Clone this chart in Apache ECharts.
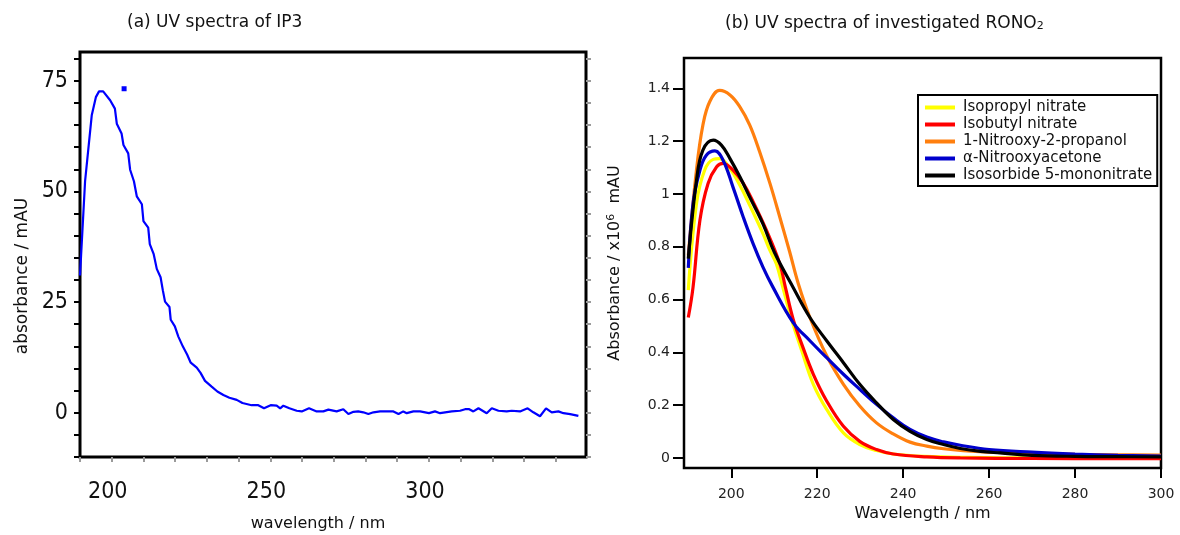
<!DOCTYPE html>
<html><head><meta charset="utf-8">
<script src="https://cdn.jsdelivr.net/npm/echarts@6/dist/echarts.min.js"></script>
<style>html,body{margin:0;padding:0;background:#fff}#c{width:1180px;height:535px}</style>
</head><body><div id="c"></div>
<script>
// ---------- Panel (a): UV spectrum of IP3 (wavelength nm, absorbance mAU) ----------
const ip3 = [
 [190,31],[191.6,52.3],[193.7,67.2],[195,71.3],[196,72.6],[197.3,72.6],[199.5,70.6],[201,68.7],
 [201.6,65.3],[203.1,63.1],[203.7,60.5],[205.2,58.6],[205.8,54.9],[207,52.3],[207.9,48.9],
 [209.5,47.1],[210,43.3],[211.5,41.8],[212,38.1],[213.2,35.9],[214.2,32.5],[215.4,30.6],
 [216.1,27.7],[216.8,25.1],[218.2,23.9],[218.6,21.0],[219.9,19.5],[221,17.2],[222.4,15.0],
 [223.8,13.1],[224.9,11.3],[226.8,10.2],[228,9.0],[229.4,7.2],[231.5,5.9],[233.3,4.8],
 [235.2,4.0],[237.1,3.4],[239.4,2.9],[241.2,2.2],[244.1,1.7],[246.2,1.7],[248,1.0],[250.1,1.7],
 [252,1.6],[253.1,1.0],[254.1,1.6],[256,1.0],[258.3,0.45],[259.9,0.3],[262.2,1.0],[264.6,0.3],
 [266.7,0.3],[268.3,0.7],[270.9,0.3],[273,0.8],[274.6,-0.3],[276.2,0.2],[277.7,0.3],[279.3,0.1],
 [280.9,-0.3],[282.5,0.1],[284.6,0.3],[286.9,0.3],[288.8,0.3],[290.4,-0.3],[291.9,0.3],[293,-0.1],
 [295.1,0.3],[297.2,0.3],[300,-0.1],[301.9,0.3],[303.5,-0.1],[305.1,0.1],[307.2,0.3],[309.8,0.45],
 [311.4,0.8],[312.7,0.8],[314,0.3],[315.6,1.0],[318.2,-0.1],[319.8,1.0],[321.9,0.45],[324.5,0.3],
 [326.1,0.45],[328.7,0.3],[331.1,1.0],[332.9,0.1],[335,-0.8],[336.9,1.0],[338.7,0.1],[340.8,0.3],
 [342.4,-0.1],[344.5,-0.3],[347.1,-0.7]
];
const ip3Outlier = [[203.9,73.2]];
const leftXTicks = [190,200,210,220,230,240,250,260,270,280,290,300,310,320,330,340];
const leftXLabels = [200,250,300];
const leftYTicks = [-10,-5,0,5,10,15,20,25,30,35,40,45,50,55,60,65,70,75,80];
const leftYLabels = [0,25,50,75];

// ---------- Panel (b): UV spectra of RONO2 (wavelength nm, absorbance x10^6 mAU) ----------
const isopropylNitrate = [
 [190,0.636],[191.9,0.963],[193.8,1.09],[195.8,1.131],[197.3,1.134],[199.7,1.096],[202,1.033],
 [204.3,0.957],[207.4,0.849],[209,0.786],[210.5,0.735],[212,0.646],[214,0.526],[216.4,0.406],
 [219.1,0.279],[222.2,0.184],[226.1,0.095],[229.9,0.051],[233.8,0.028],[237.7,0.015],[245,0.006],
 [255,0.002],[270,0.0],[300,0.0]
];
const isobutylNitrate = [
 [190,0.532],[191.1,0.646],[192.7,0.9],[194.6,1.04],[196.6,1.103],[198.1,1.116],[200.4,1.09],
 [202.8,1.04],[205.1,0.97],[208.2,0.862],[211.3,0.735],[212.6,0.646],[214.4,0.526],[216.7,0.418],
 [219.1,0.317],[222.2,0.216],[226.1,0.12],[229.9,0.063],[233.8,0.032],[237.7,0.015],[245.5,0.004],
 [253.3,0.0],[270,-0.002],[300,-0.003]
];
const nitrooxyPropanol = [
 [190,0.767],[191.9,1.09],[193.4,1.261],[195,1.35],[197.3,1.392],[199.7,1.375],[202,1.33],
 [204.3,1.261],[206.6,1.16],[209,1.04],[211.3,0.912],[213.6,0.78],[215.6,0.66],[218.3,0.532],
 [222.2,0.387],[226.1,0.279],[229.9,0.197],[233.8,0.133],[237.7,0.091],[241.6,0.06],[245.5,0.045],
 [249.4,0.035],[254,0.028],[262,0.021],[270,0.017],[280,0.014],[290,0.012],[300,0.011]
];
const nitrooxyacetone = [
 [190,0.72],[191.1,0.963],[192.7,1.09],[194.2,1.147],[196.2,1.163],[198.1,1.128],[200.4,1.026],
 [202.8,0.912],[205.1,0.811],[207.4,0.722],[209.6,0.65],[214.4,0.513],[218.3,0.444],[222.2,0.38],
 [226.1,0.317],[229.9,0.26],[233.8,0.203],[237.7,0.152],[241.6,0.108],[245.5,0.079],[249.4,0.061],
 [253.3,0.048],[260,0.032],[270,0.022],[280,0.015],[290,0.01],[300,0.007]
];
const isosorbideMononitrate = [
 [190,0.755],[191.9,1.05],[193.4,1.166],[195.8,1.204],[197.7,1.185],[199.7,1.134],[202,1.065],
 [204.3,0.988],[207.4,0.886],[210,0.78],[214.4,0.646],[218.3,0.532],[222.2,0.444],[226.1,0.361],
 [229.9,0.279],[233.8,0.209],[237.7,0.146],[241.6,0.101],[245.5,0.07],[249.4,0.051],[253.3,0.036],
 [258,0.025],[262.6,0.019],[270,0.01],[280,0.006],[290,0.005],[300,0.004]
];
const seriesNames = ['Isopropyl nitrate','Isobutyl nitrate','1-Nitrooxy-2-propanol','\u03b1-Nitrooxyacetone','Isosorbide 5-mononitrate'];
const seriesColors = ['#ffff00','#ff0000','#ff7f0e','#0000cc','#000000'];
const rightXTicks = [200,220,240,260,280,300];
const rightYTicks = [0,0.2,0.4,0.6,0.8,1,1.2,1.4];

const SANS = "'DejaVu Sans', sans-serif";
const NARROW = "'Liberation Sans Narrow','DejaVu Sans Condensed',sans-serif";

const chart = echarts.init(document.getElementById('c'), null, {renderer:'canvas'});
const rightData = [isopropylNitrate, isobutylNitrate, nitrooxyPropanol, nitrooxyacetone, isosorbideMononitrate];

chart.setOption({
  animation:false,
  backgroundColor:'#fff',
  title:[
    {text:'(a) UV spectra of IP3', left:122, top:9,
     textStyle:{fontFamily:SANS, fontSize:17, fontWeight:'normal', color:'#111'}},
    {text:'(b) UV spectra of investigated RONO{sub|2}', left:720, top:10,
     textStyle:{fontFamily:SANS, fontSize:17, fontWeight:'normal', color:'#111',
       rich:{sub:{fontFamily:SANS, fontSize:11, lineHeight:8, verticalAlign:'bottom', color:'#111'}}}}
  ],
  grid:[
    {left:80, top:52, right:594, bottom:78, show:true, borderColor:'#000', borderWidth:3, backgroundColor:'#fff'},
    {left:684, top:58, right:19, bottom:67, show:true, borderColor:'#000', borderWidth:2.5, backgroundColor:'#fff'}
  ],
  legend:{
    show:true, orient:'vertical', left:918, top:95,
    data:seriesNames,
    icon:'rect', itemWidth:30, itemHeight:4, itemGap:0,
    padding:[4,5,2,7],
    borderColor:'#000', borderWidth:2, backgroundColor:'#fff',
    textStyle:{fontFamily:SANS, fontSize:15, lineHeight:17, color:'#111', padding:[0,0,0,3]}
  },
  xAxis:[
    {gridIndex:0, type:'value', min:190, max:349.5,
     axisLine:{show:false, onZero:false}, splitLine:{show:false},
     axisTick:{show:true, customValues:leftXTicks, length:5, lineStyle:{color:'#9a9a9a', width:2}},
     axisLabel:{customValues:leftXLabels, margin:24, fontFamily:NARROW, fontSize:23, color:'#111', padding:[0,8,0,0]}},
    {gridIndex:1, type:'value', min:189, max:300,
     axisLine:{show:false, onZero:false}, splitLine:{show:false},
     axisTick:{show:true, customValues:rightXTicks, length:10, lineStyle:{color:'#000', width:2}},
     axisLabel:{customValues:rightXTicks, margin:19, fontFamily:SANS, fontSize:14, color:'#222'},
     name:'Wavelength / nm', nameLocation:'middle', nameGap:35,
     nameTextStyle:{fontFamily:SANS, fontSize:16, color:'#111'}}
  ],
  yAxis:[
    {gridIndex:0, type:'value', min:-10, max:81.5,
     axisLine:{show:false, onZero:false}, splitLine:{show:false},
     axisTick:{show:true, customValues:leftYTicks, length:6, lineStyle:{color:'#000', width:2}},
     axisLabel:{customValues:leftYLabels, margin:12, fontFamily:NARROW, fontSize:23, color:'#111', padding:[7,0,0,0]}},
    {gridIndex:0, type:'value', min:-10, max:81.5, position:'right',
     axisLine:{show:false, onZero:false}, splitLine:{show:false},
     axisTick:{show:true, customValues:leftYTicks, length:5, lineStyle:{color:'#9a9a9a', width:2}},
     axisLabel:{show:false}},
    {gridIndex:1, type:'value', min:-0.038, max:1.515,
     axisLine:{show:false, onZero:false}, splitLine:{show:false},
     axisTick:{show:true, customValues:rightYTicks, length:11, lineStyle:{color:'#000', width:2}},
     axisLabel:{customValues:rightYTicks, margin:14, fontFamily:SANS, fontSize:14, color:'#222'},
     name:'{a|Absorbance / x10}{s|6}{a|  mAU}', nameLocation:'middle', nameGap:60,
     nameTextStyle:{fontFamily:SANS, fontSize:16, color:'#111',
       rich:{a:{fontFamily:SANS, fontSize:16, lineHeight:18, color:'#111'},
             s:{fontFamily:SANS, fontSize:11, lineHeight:8, verticalAlign:'top', color:'#111'}}}}
  ],
  graphic:[
    {type:'text', x:23, y:276, rotation:Math.PI/2,
     style:{text:'absorbance / mAU', fontFamily:SANS, fontSize:17, fill:'#111', align:'center', verticalAlign:'middle'}},
    {type:'text', x:318, y:524,
     style:{text:'wavelength / nm', fontFamily:SANS, fontSize:16, fill:'#111', align:'center', verticalAlign:'middle'}}
  ],
  series:[
    {type:'line', xAxisIndex:0, yAxisIndex:0, data:ip3, showSymbol:false, symbol:'none',
     lineStyle:{color:'#0000ff', width:2.2}, itemStyle:{color:'#0000ff'}, z:3},
    {type:'scatter', xAxisIndex:0, yAxisIndex:0, data:ip3Outlier, symbol:'rect', symbolSize:5,
     itemStyle:{color:'#0000ff', opacity:1}, z:3},
  ].concat(seriesNames.map((n,i)=>({
    name:n, type:'line', xAxisIndex:1, yAxisIndex:2, data:rightData[i], smooth:0.4,
    showSymbol:false, symbol:'none', lineStyle:{color:seriesColors[i], width:3.2}, itemStyle:{color:seriesColors[i]},
    z: 3
  })))
});
</script></body></html>
